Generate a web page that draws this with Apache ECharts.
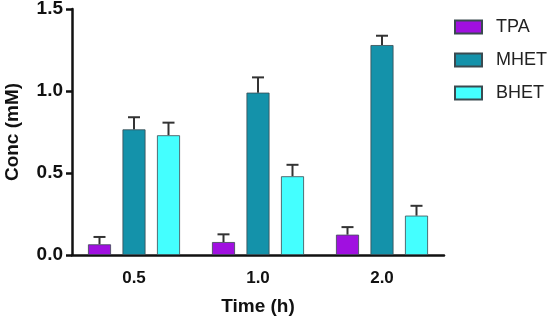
<!DOCTYPE html>
<html>
<head>
<meta charset="utf-8">
<script src="https://cdn.jsdelivr.net/npm/echarts@6/dist/echarts.min.js"></script>
<style>
  html, body { margin: 0; padding: 0; background: #fff; }
  #main { width: 551px; height: 321px; }
</style>
</head>
<body>
<div id="main"></div>
<script>
const categories = ['0.5', '1.0', '2.0'];
const seriesNames = ['TPA', 'MHET', 'BHET'];
const tpa = [0.065, 0.079, 0.124];
const tpaErr = [0.045, 0.047, 0.046];
const mhet = [0.766, 0.99, 1.28];
const mhetErr = [0.074, 0.093, 0.057];
const bhet = [0.73, 0.48, 0.24];
const bhetErr = [0.077, 0.07, 0.06];
const colors = ['#A010E0', '#1492AA', '#44FFFF'];

const FONT = '"Liberation Sans", Arial, sans-serif';
const values = [tpa, mhet, bhet];
const errs = [tpaErr, mhetErr, bhetErr];
const offsets = [-34.5, 0, 34.5];

const myChart = echarts.init(document.getElementById('main'));

const barSeries = seriesNames.map((name, i) => ({
  name: name,
  type: 'bar',
  data: values[i],
  barWidth: 23,
  barGap: '50%',
  itemStyle: { color: colors[i], borderColor: '#3a4a50', borderWidth: 0.8 }
}));

// upper error bars only, drawn behind the bars
const errSeries = seriesNames.map((name, i) => ({
  type: 'custom',
  name: name + '_err',
  z: 1,
  data: values[i].map((v, k) => [k, v, v + errs[i][k]]),
  renderItem: function (params, api) {
    const base = api.coord([api.value(0), api.value(1)]);
    const top = api.coord([api.value(0), api.value(2)]);
    const x = base[0] + offsets[i];
    const cap = 6;
    return {
      type: 'group',
      children: [
        { type: 'line', shape: { x1: x, y1: base[1], x2: x, y2: top[1] },
          style: { stroke: '#333', lineWidth: 2 } },
        { type: 'line', shape: { x1: x - cap, y1: top[1], x2: x + cap, y2: top[1] },
          style: { stroke: '#333', lineWidth: 2 } }
      ]
    };
  },
  silent: true
}));

myChart.setOption({
  animation: false,
  textStyle: { fontFamily: FONT },
  grid: { left: 72, right: 107, top: 9, bottom: 66, outerBoundsMode: 'none', containLabel: false },
  legend: {
    data: seriesNames,
    orient: 'vertical',
    left: 454,
    top: 18,
    padding: 0,
    itemWidth: 27,
    itemHeight: 13,
    itemGap: 15,
    icon: 'rect',
    textStyle: { fontSize: 18, color: '#222', fontFamily: FONT, padding: [0, 0, 0, 9] }
  },
  xAxis: {
    type: 'category',
    data: categories,
    name: 'Time (h)',
    nameLocation: 'middle',
    nameGap: 42,
    nameTextStyle: { fontSize: 19, fontWeight: 'bold', color: '#111', fontFamily: FONT },
    axisLine: { lineStyle: { color: '#111', width: 2.5 } },
    axisTick: { alignWithLabel: true, length: 8, lineStyle: { color: '#111', width: 2.5 } },
    axisLabel: { fontSize: 17, fontWeight: 'bold', color: '#111', margin: 15, fontFamily: FONT }
  },
  yAxis: {
    type: 'value',
    min: 0,
    max: 1.5,
    interval: 0.5,
    name: 'Conc (mM)',
    nameLocation: 'middle',
    nameGap: 50,
    nameTextStyle: { fontSize: 19, fontWeight: 'bold', color: '#111', fontFamily: FONT },
    axisLine: { show: true, lineStyle: { color: '#111', width: 2.5 } },
    axisTick: { show: true, length: 6, lineStyle: { color: '#111', width: 2.5 } },
    axisLabel: {
      fontSize: 19, fontWeight: 'bold', color: '#111', margin: 9, fontFamily: FONT,
      formatter: (v) => v.toFixed(1)
    },
    splitLine: { show: false }
  },
  series: [...errSeries, ...barSeries]
});
</script>
</body>
</html>
